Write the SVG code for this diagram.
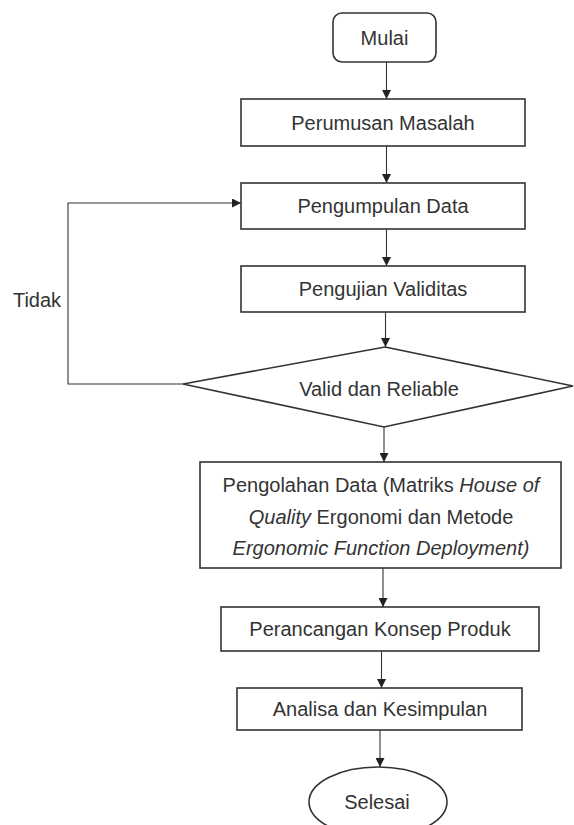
<svg xmlns="http://www.w3.org/2000/svg" width="574" height="825" viewBox="0 0 574 825">
<defs>
<marker id="ah" viewBox="0 0 10 10" refX="10" refY="5" markerWidth="9" markerHeight="9" markerUnits="userSpaceOnUse" orient="auto">
<path d="M0,0 L10,5 L0,10 z" fill="#222"/>
</marker>
</defs>
<style>
.box{fill:#fff;stroke:#333;stroke-width:1.6}
.t{font-family:"Liberation Sans",Arial,sans-serif;font-size:20px;fill:#333;text-anchor:middle}
.c{fill:none;stroke:#333;stroke-width:1.1}
</style>
<rect width="574" height="825" fill="#fff"/>
<g id="connectors">
<line class="c" x1="386.5" y1="62" x2="386.5" y2="99" marker-end="url(#ah)"/>
<line class="c" x1="386.5" y1="146" x2="386.5" y2="183" marker-end="url(#ah)"/>
<line class="c" x1="386.5" y1="229" x2="386.5" y2="266" marker-end="url(#ah)"/>
<line class="c" x1="385.5" y1="312" x2="385.5" y2="347" marker-end="url(#ah)"/>
<polyline class="c" points="183,384 68,384 68,203 241,203" marker-end="url(#ah)"/>
<line class="c" x1="384" y1="427" x2="384" y2="462" marker-end="url(#ah)"/>
<line class="c" x1="383" y1="568" x2="383" y2="607" marker-end="url(#ah)"/>
<line class="c" x1="381.5" y1="651" x2="381.5" y2="688" marker-end="url(#ah)"/>
<line class="c" x1="380" y1="730" x2="380" y2="767" marker-end="url(#ah)"/>
<text class="t" x="37" y="307">Tidak</text>
</g>
<g id="mulai">
<rect class="box" x="333" y="13" width="103" height="49" rx="9"/>
<text class="t" x="384.5" y="45">Mulai</text>
</g>
<g id="perumusan">
<rect class="box" x="241" y="99" width="284" height="47"/>
<text class="t" x="383" y="130">Perumusan Masalah</text>
</g>
<g id="pengumpulan">
<rect class="box" x="241" y="183" width="284" height="46"/>
<text class="t" x="383" y="213">Pengumpulan Data</text>
</g>
<g id="pengujian">
<rect class="box" x="241" y="266" width="284" height="46"/>
<text class="t" x="383" y="296">Pengujian Validitas</text>
</g>
<g id="valid">
<polygon class="box" points="385,347 573,386 384,427 183,384"/>
<text class="t" x="379" y="396">Valid dan Reliable</text>
</g>
<g id="pengolahan">
<rect class="box" x="200" y="462" width="361" height="106"/>
<text class="t" x="381" y="492">Pengolahan Data (Matriks <tspan font-style="italic">House of</tspan></text>
<text class="t" x="381" y="524"><tspan font-style="italic">Quality</tspan> Ergonomi dan Metode</text>
<text class="t" x="381" y="555" font-style="italic">Ergonomic Function Deployment)</text>
</g>
<g id="perancangan">
<rect class="box" x="221" y="607" width="318" height="44"/>
<text class="t" x="380" y="636">Perancangan Konsep Produk</text>
</g>
<g id="analisa">
<rect class="box" x="237" y="688" width="285" height="42"/>
<text class="t" x="380" y="716">Analisa dan Kesimpulan</text>
</g>
<g id="selesai">
<ellipse class="box" cx="378" cy="802" rx="69" ry="35"/>
<text class="t" x="377" y="809">Selesai</text>
</g>
</svg>
